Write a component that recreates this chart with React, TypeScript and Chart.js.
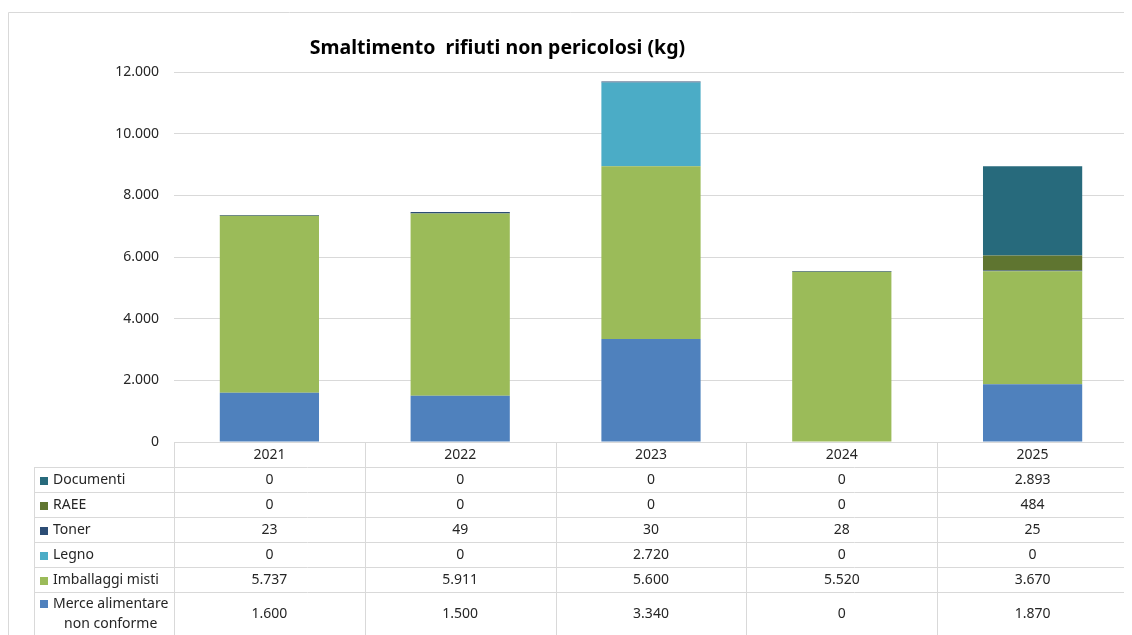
import React, { useEffect, useRef } from "react";
import { Chart, registerables } from "chart.js";

Chart.register(...registerables);

const categories = ["2021", "2022", "2023", "2024", "2025"];
const merce = [1600, 1500, 3340, 0, 1870];
const imballaggi = [5737, 5911, 5600, 5520, 3670];
const legno = [0, 0, 2720, 0, 0];
const toner = [23, 49, 30, 28, 25];
const raee = [0, 0, 0, 0, 484];
const documenti = [0, 0, 0, 0, 2893];
const seriesLabels = [
  "Merce alimentare\nnon conforme",
  "Imballaggi misti",
  "Legno",
  "Toner",
  "RAEE",
  "Documenti",
];
const seriesColors = ["#4F81BD", "#9BBB59", "#4BACC6", "#2C4D75", "#5F7530", "#276A7C"];
const yMax = 12000;
const yStep = 2000;
const titleText = "Smaltimento  rifiuti non pericolosi (kg)";

const FONT = "'Noto Sans', 'DejaVu Sans', sans-serif";
const TEXT = "#262626";
const GRID = "#d9d9d9";

const fmt = (v: number) =>
  String(Math.round(v)).replace(/\B(?=(\d{3})+(?!\d))/g, ".");

const tablePlugin = {
  id: "dataTable",
  afterDraw(chart: any) {
    const ctx = chart.ctx as CanvasRenderingContext2D;
    const { left, right, bottom } = chart.chartArea;
    const H = chart.height;
    const n = categories.length;
    const cw = (right - left) / n;
    const headerH = 25;
    const rowH = 25;
    const legendLeft = 26;
    const datasets = chart.data.datasets;
    const nRows = datasets.length;
    const px = (v: number) => Math.round(v) + 0.5;

    ctx.save();
    // outer border
    ctx.strokeStyle = GRID;
    ctx.lineWidth = 1;
    ctx.beginPath();
    ctx.moveTo(0.5, H);
    ctx.lineTo(0.5, 4.5);
    ctx.lineTo(chart.width, 4.5);
    ctx.stroke();

    // title
    ctx.fillStyle = "#000";
    ctx.font = `bold 19.5px ${FONT}`;
    ctx.textAlign = "center";
    ctx.textBaseline = "middle";
    ctx.fillText(titleText, 489.5, 40);

    ctx.strokeStyle = GRID;
    ctx.beginPath();
    // header top line
    ctx.moveTo(left, px(bottom));
    ctx.lineTo(right, px(bottom));
    // row lines
    for (let r = 0; r < nRows; r++) {
      const y = px(bottom + headerH + r * rowH);
      ctx.moveTo(legendLeft, y);
      ctx.lineTo(right, y);
    }
    // vertical lines
    for (let i = 0; i <= n; i++) {
      const x = px(left + i * cw);
      ctx.moveTo(x, bottom);
      ctx.lineTo(x, H);
    }
    ctx.moveTo(px(legendLeft), bottom + headerH);
    ctx.lineTo(px(legendLeft), H);
    ctx.stroke();

    ctx.fillStyle = TEXT;
    ctx.font = `14px ${FONT}`;
    ctx.textAlign = "center";
    ctx.textBaseline = "middle";
    // header
    for (let i = 0; i < n; i++) {
      ctx.fillText(String(chart.data.labels[i]), left + (i + 0.5) * cw, bottom + headerH / 2 + 1);
    }
    // rows (top row = last dataset)
    for (let r = 0; r < nRows; r++) {
      const di = nRows - 1 - r;
      const ds = datasets[di];
      const top = bottom + headerH + r * rowH;
      const lines = String(ds.label).split("\n");
      const isMulti = lines.length > 1;
      const cy = isMulti ? top + 22 : top + rowH / 2 + 1;
      // values
      ctx.fillStyle = TEXT;
      ctx.textAlign = "center";
      for (let i = 0; i < n; i++) {
        ctx.fillText(fmt(ds.data[i]), left + (i + 0.5) * cw, cy);
      }
      // legend swatch
      const firstY = isMulti ? top + 12 : cy;
      ctx.fillStyle = ds.backgroundColor;
      ctx.fillRect(32, Math.round(firstY - 4), 8, 8);
      ctx.fillStyle = TEXT;
      ctx.textAlign = "left";
      ctx.fillText(lines[0], 45, firstY);
      if (isMulti) {
        const w0 = ctx.measureText(lines[0]).width;
        ctx.textAlign = "center";
        for (let k = 1; k < lines.length; k++) {
          ctx.fillText(lines[k], 45 + w0 / 2, firstY + 20 * k);
        }
      }
    }
    ctx.restore();
  },
};

export default function App() {
  const ref = useRef<HTMLCanvasElement | null>(null);

  useEffect(() => {
    document.body.style.overflow = "hidden";
    if (!ref.current) return;
    const seriesData = [merce, imballaggi, legno, toner, raee, documenti];
    const chart = new Chart(ref.current, {
      type: "bar",
      data: {
        labels: categories,
        datasets: seriesData.map((d, i) => ({
          label: seriesLabels[i],
          data: d,
          backgroundColor: seriesColors[i],
          borderWidth: 0,
          categoryPercentage: 1,
          barPercentage: 0.52,
        })),
      },
      options: {
        responsive: false,
        animation: false,
        layout: { padding: { top: 64, bottom: 193, left: 0, right: 4 } },
        plugins: {
          legend: { display: false },
          title: { display: false },
          tooltip: { enabled: false },
        },
        scales: {
          x: { stacked: true, display: false },
          y: {
            stacked: true,
            min: 0,
            max: yMax,
            ticks: {
              stepSize: yStep,
              callback: (v: any) => fmt(Number(v)),
              font: { family: FONT, size: 14 },
              color: TEXT,
              padding: 15,
            },
            grid: { color: GRID, drawTicks: false },
            border: { display: false },
            afterFit(scale: any) {
              scale.width = 166;
            },
          },
        },
      },
      plugins: [tablePlugin],
    } as any);
    return () => chart.destroy();
  }, []);

  return (
    <div style={{ width: 1124, height: 627 }}>
      <canvas ref={ref} width={1124} height={627} style={{ display: "block" }} />
    </div>
  );
}
